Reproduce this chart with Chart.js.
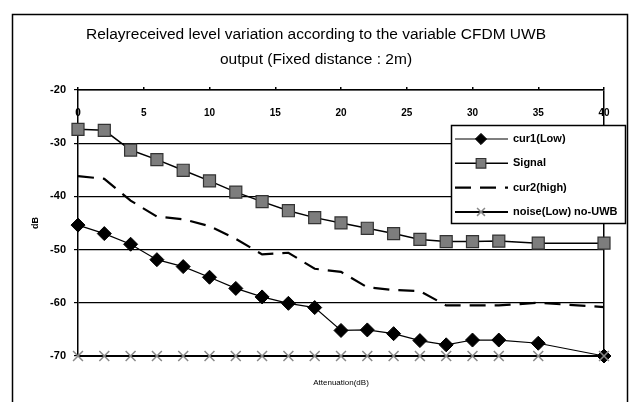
<!DOCTYPE html>
<html lang="en">
<head>
<meta charset="UTF-8">
<title>Relay received level variation</title>
<script src="https://cdn.jsdelivr.net/npm/chart.js"></script>
<style>
  body { margin: 0; background: #fff; }
  canvas { display: block; }
</style>
</head>
<body>
<canvas id="chart" width="632" height="402"></canvas>
<script>
// attenuation steps (dB) where each series was measured
const attenuation = [0, 2, 4, 6, 8, 10, 12, 14, 16, 18, 20, 22, 24, 26, 28, 30, 32, 35, 40];
const cur1Low   = [-45.4, -47.0, -49.0, -51.9, -53.2, -55.2, -57.3, -58.9, -60.1, -60.9, -65.2, -65.1, -65.8, -67.1, -67.9, -67.0, -67.0, -67.6, -70.0];
const signal    = [-27.4, -27.6, -31.3, -33.1, -35.1, -37.1, -39.2, -41.0, -42.7, -44.0, -45.0, -46.0, -47.0, -48.1, -48.5, -48.5, -48.4, -48.8, -48.8];
const cur2High  = [-36.2, -36.7, -40.8, -43.8, -44.3, -45.6, -48.0, -50.9, -50.6, -53.6, -54.2, -57.1, -57.6, -57.8, -60.5, -60.5, -60.5, -60.0, -60.8];
const noiseLow  = [-70, -70, -70, -70, -70, -70, -70, -70, -70, -70, -70, -70, -70, -70, -70, -70, -70, -70, -70];
const xTicks = [0, 5, 10, 15, 20, 25, 30, 35, 40];

const FONT = "'Liberation Sans', Arial, sans-serif";

function pts(values) {
  return values.map((v, i) => ({ x: attenuation[i], y: v }));
}

// outer frame like the pasted Excel chart
const framePlugin = {
  id: 'frame',
  beforeDraw(chart) {
    const ctx = chart.ctx;
    ctx.save();
    ctx.fillStyle = '#fff';
    ctx.fillRect(0, 0, chart.width, chart.height);
    ctx.strokeStyle = '#000';
    ctx.lineWidth = 1.5;
    ctx.strokeRect(12.5, 14.5, 615, 400);
    ctx.restore();
  }
};

// x labels sit just under the top axis, inside the plot
const innerXLabels = {
  id: 'innerXLabels',
  afterDraw(chart) {
    const ctx = chart.ctx;
    const sx = chart.scales.x;
    ctx.save();
    ctx.fillStyle = '#000';
    ctx.font = 'bold 10px ' + FONT;
    ctx.textAlign = 'center';
    ctx.textBaseline = 'middle';
    xTicks.forEach(v => ctx.fillText(String(v), sx.getPixelForValue(v), chart.chartArea.top + 23));
    ctx.restore();
  }
};

// legend box drawn inside the plot, top right
const boxLegend = {
  id: 'boxLegend',
  afterDatasetsDraw(chart) {
    const ctx = chart.ctx;
    const x = 451, y = 125, w = 174, h = 98;
    ctx.save();
    ctx.fillStyle = '#fff';
    ctx.fillRect(x, y, w, h);
    ctx.strokeStyle = '#000';
    ctx.lineWidth = 1.5;
    ctx.strokeRect(x + 0.5, y + 0.5, w, h);
    chart.data.datasets.forEach((ds, i) => {
      const cy = y + 14 + i * 24.3;
      ctx.beginPath();
      ctx.setLineDash(ds.borderDash || []);
      ctx.strokeStyle = ds.borderColor;
      ctx.lineWidth = ds.borderWidth;
      ctx.moveTo(x + 4, cy);
      ctx.lineTo(x + 57, cy);
      ctx.stroke();
      ctx.setLineDash([]);
      if (ds.pointRadius > 0) {
        ctx.fillStyle = ds.pointBackgroundColor;
        ctx.strokeStyle = ds.pointBorderColor;
        ctx.lineWidth = ds.pointBorderWidth;
        Chart.helpers.drawPoint(ctx, {
          pointStyle: ds.pointStyle,
          radius: ds.pointRadius * 0.8,
          borderWidth: ds.pointBorderWidth,
          rotation: 0
        }, x + 30, cy);
      }
      ctx.fillStyle = '#000';
      ctx.font = 'bold 11px ' + FONT;
      ctx.textBaseline = 'middle';
      ctx.textAlign = 'left';
      ctx.fillText(ds.label, x + 62, cy);
    });
    ctx.restore();
  }
};

new Chart(document.getElementById('chart'), {
  type: 'line',
  data: {
    datasets: [{
      label: 'cur1(Low)',
      data: pts(cur1Low),
      borderColor: '#000',
      borderWidth: 1.2,
      pointStyle: 'rectRot',
      pointRadius: 7,
      pointBackgroundColor: '#000',
      pointBorderColor: '#000',
      pointBorderWidth: 1
    }, {
      label: 'Signal',
      data: pts(signal),
      borderColor: '#000',
      borderWidth: 1.5,
      pointStyle: 'rect',
      pointRadius: 8.5,
      pointBackgroundColor: '#7d7d7d',
      pointBorderColor: '#333',
      pointBorderWidth: 1.2
    }, {
      label: 'cur2(high)',
      data: pts(cur2High),
      borderColor: '#000',
      borderWidth: 2.2,
      borderDash: [16, 9],
      pointRadius: 0
    }, {
      label: 'noise(Low) no-UWB',
      data: pts(noiseLow),
      borderColor: '#000',
      borderWidth: 2,
      pointStyle: 'crossRot',
      pointRadius: 7,
      pointBackgroundColor: '#888',
      pointBorderColor: '#888',
      pointBorderWidth: 1.5,
      order: -1
    }]
  },
  options: {
    responsive: false,
    animation: false,
    clip: false,
    layout: { padding: { left: 28, right: 28, top: 0, bottom: 0 } },
    plugins: {
      legend: { display: false },
      tooltip: { enabled: false },
      title: {
        display: true,
        text: ['Relayreceived level variation according to the variable CFDM UWB',
               'output (Fixed distance : 2m)'],
        color: '#000',
        font: { family: FONT, size: 15.5, weight: 'normal', lineHeight: 1.61 },
        padding: { top: 22, bottom: 0 }
      }
    },
    scales: {
      x: {
        type: 'linear',
        position: 'top',
        min: 0,
        max: 40,
        afterBuildTicks: s => { s.ticks = xTicks.map(v => ({ value: v })); },
        afterFit: s => { s.height = 18; },
        ticks: { display: false },
        grid: {
          color: c => (c.tick && c.tick.value === 40) ? '#000' : 'rgba(0,0,0,0)',
          lineWidth: 1.5,
          tickColor: '#000',
          tickLength: 3
        },
        border: { color: '#000', width: 1.5 }
      },
      x2: {
        type: 'linear',
        position: 'bottom',
        min: 0,
        max: 40,
        afterFit: s => { s.height = 46; },
        ticks: { display: false },
        grid: { display: false },
        border: { display: false },
        title: {
          display: true,
          text: 'Attenuation(dB)',
          color: '#000',
          font: { family: FONT, size: 8 },
          padding: { top: 0, bottom: 14 }
        }
      },
      y: {
        min: -70,
        max: -20,
        afterFit: s => { s.width = 50; },
        ticks: {
          stepSize: 10,
          padding: 8,
          color: '#000',
          font: { family: FONT, size: 11, weight: 'bold' }
        },
        grid: { color: '#000', lineWidth: 1.2, tickLength: 4, tickColor: '#000' },
        border: { color: '#000', width: 1.5 },
        title: {
          display: true,
          text: 'dB',
          color: '#000',
          font: { family: FONT, size: 9, weight: 'bold' },
          padding: { top: 2 }
        }
      }
    }
  },
  plugins: [framePlugin, innerXLabels, boxLegend]
});
</script>
</body>
</html>
